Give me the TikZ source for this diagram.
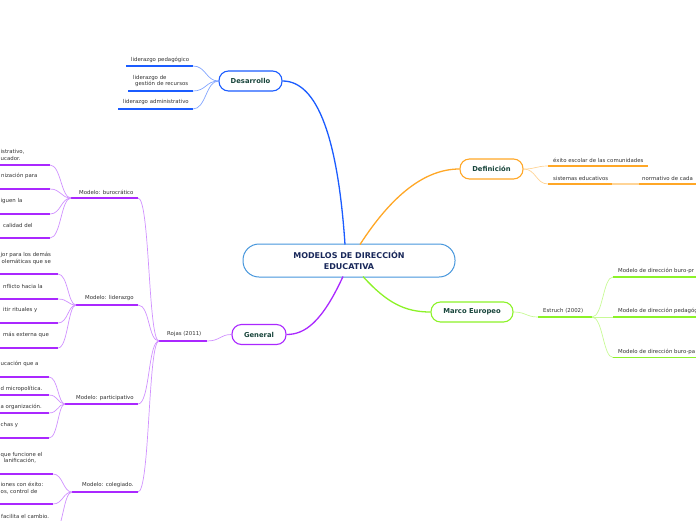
\documentclass[tikz,border=0pt]{standalone}
\usepackage{fontspec}
\setmainfont{DejaVu Sans}
\definecolor{cblue}{RGB}{27,92,255}
\definecolor{cbluel}{RGB}{130,165,255}
\definecolor{ccentral}{RGB}{70,150,220}
\definecolor{corange}{RGB}{255,167,38}
\definecolor{corangel}{RGB}{255,212,150}
\definecolor{cgreen}{RGB}{140,242,40}
\definecolor{cgreenl}{RGB}{200,250,150}
\definecolor{cpurple}{RGB}{170,40,255}
\definecolor{cpurplel}{RGB}{208,145,255}
\definecolor{nodetext}{RGB}{25,70,60}
\definecolor{titletext}{RGB}{25,40,90}
\definecolor{txtgray}{RGB}{50,50,50}
\tikzset{
  txt/.style={font=\fontsize{5.4}{6.3}\selectfont, text=txtgray, inner sep=0pt, anchor=west, align=left},
  topic/.style={draw, line width=1.1pt, fill=white, rounded corners=9.5pt, minimum height=20pt, inner sep=0pt, font=\fontsize{6.8}{8}\selectfont\bfseries, text=nodetext},
  mainlink/.style={line width=1.3pt},
  leafline/.style={line width=1.8pt},
  leaflink/.style={line width=0.7pt},
}
\begin{document}
\begin{tikzpicture}[x=1pt,y=-1pt]
\useasboundingbox (0,0) rectangle (696,520);
\clip (0,0) rectangle (696,520);

% ---------- main nodes ----------
\node[draw=ccentral, line width=1pt, fill=white, rounded corners=16pt, minimum width=212pt, minimum height=33pt, inner sep=0pt, align=center, font=\fontsize{8}{10.5}\selectfont\bfseries, text=titletext] (central) at (349,260.5) {MODELOS DE DIRECCIÓN\\EDUCATIVA};
\node[topic, draw=cblue, minimum width=63pt] (desa) at (250.5,81) {Desarrollo};
\node[topic, draw=corange, minimum width=63pt] (defi) at (491.5,169) {Definición};
\node[topic, draw=cgreen, minimum width=82pt] (marco) at (472,312) {Marco Europeo};
\node[topic, draw=cpurple, minimum width=54pt] (gene) at (259,334.5) {General};

\coordinate (cDesa) at (345,244.5);
\coordinate (cDefi) at (360,244.5);
\coordinate (cMarco) at (363,276.5);
\coordinate (cGene) at (343,276.5);

\draw[mainlink, cblue] (cDesa) .. controls (338,140) and (318,81) .. (desa.east);
\draw[mainlink, corange] (cDefi) .. controls (392,195) and (425,169) .. (defi.west);
\draw[mainlink, cgreen] (cMarco) .. controls (387,303) and (405,312) .. (marco.west);
\draw[mainlink, cpurple] (cGene) .. controls (322,322) and (305,334.5) .. (gene.east);

% ---------- Desarrollo ----------
\coordinate (d1a) at (126,66);  \coordinate (d1b) at (193,66);
\coordinate (d2a) at (128,91);  \coordinate (d2b) at (193,91);
\coordinate (d3a) at (118,109); \coordinate (d3b) at (193,109);
\foreach \i in {1,2,3}{
  \draw[leafline, cblue] (d\i a) -- (d\i b);
  \draw[leaflink, cbluel] (d\i b) .. controls (206,0|-d\i b) and (206,81) .. (desa.west);
}
\node[txt] (d1t) at (131,60) {liderazgo pedagógico};
\node[txt] (d2t) at (133,81) {liderazgo de\\\hspace*{2pt}gestión de recursos};
\node[txt] (d3t) at (123,102) {liderazgo administrativo};

% ---------- Definición ----------
\coordinate (f1a) at (548,166); \coordinate (f1b) at (648,166);
\coordinate (f2a) at (548,184); \coordinate (f2b) at (612,184);
\coordinate (f3a) at (639,184); \coordinate (f3b) at (697,184);
\draw[leafline, corange] (f1a) -- (f1b);
\draw[leafline, corange] (f2a) -- (f2b);
\draw[leafline, corange] (f3a) -- (f3b);
\draw[line width=1.5pt, corangel] (f2b) -- (f3a);
\draw[leaflink, corangel] (defi.east) .. controls (536,169) and (536,166) .. (f1a);
\draw[leaflink, corangel] (defi.east) .. controls (536,169) and (536,184) .. (f2a);
\node[txt] (f1t) at (553,160) {éxito escolar de las comunidades};
\node[txt] (f2t) at (553,178) {sistemas educativos};
\node[txt] (f3t) at (642,178) {normativo de cada};

% ---------- Marco Europeo ----------
\coordinate (ea) at (538,317); \coordinate (eb) at (592,317);
\draw[leafline, cgreen] (ea) -- (eb);
\draw[leaflink, cgreenl] (marco.east) .. controls (526,312) and (526,317) .. (ea);
\node[txt] (et) at (543,311) {Estruch (2002)};
\coordinate (m1a) at (613,277); \coordinate (m1b) at (697,277);
\coordinate (m2a) at (613,317); \coordinate (m2b) at (697,317);
\coordinate (m3a) at (613,357.5); \coordinate (m3b) at (697,357.5);
\foreach \i in {1,2,3}{
  \draw[leafline, cgreen] (m\i a) -- (m\i b);
  \draw[leaflink, cgreenl] (eb) .. controls (603,317) and (603,0|-m\i a) .. (m\i a);
}
\node[txt] (m1t) at (618,271) {Modelo de dirección buro-pr};
\node[txt] (m2t) at (618,311) {Modelo de dirección pedagóg};
\node[txt] (m3t) at (618,351.5) {Modelo de dirección buro-pa};

% ---------- General ----------
\coordinate (ra) at (159,341); \coordinate (rb) at (207,341);
\draw[leafline, cpurple] (ra) -- (rb);
\draw[leaflink, cpurplel] (rb) .. controls (220,341) and (220,334.5) .. (gene.west);
\node[txt] (rt) at (167,334) {Rojas (2011)};

% Rojas children
\coordinate (b1a) at (71,198);  \coordinate (b1b) at (138,198);
\coordinate (b2a) at (76,305);  \coordinate (b2b) at (138,305);
\coordinate (b3a) at (65,404);  \coordinate (b3b) at (138,404);
\coordinate (b4a) at (72,492);  \coordinate (b4b) at (138,492);
\foreach \i in {1,2,3,4}{
  \draw[leafline, cpurple] (b\i a) -- (b\i b);
  \draw[leaflink, cpurplel] (b\i b) .. controls (150,0|-b\i b) and (148,341) .. (ra);
}
\node[txt] (b1t) at (79,192) {Modelo: burocrático};
\node[txt] (b2t) at (85,298.5) {Modelo: liderazgo};
\node[txt] (b3t) at (76,398) {Modelo: participativo};
\node[txt] (b4t) at (82,485.5) {Modelo: colegiado.};

% leaves of burocrático
\foreach \y [count=\i] in {165,189,214,238}{
  \coordinate (l1\i a) at (-2,\y); \coordinate (l1\i b) at (50,\y);
  \draw[leafline, cpurple] (l1\i a) -- (l1\i b);
  \draw[leaflink, cpurplel] (l1\i b) .. controls (61,\y) and (61,198) .. (b1a);
}
\node[txt] (t11) at (0.5,155) {istrativo,\\ucador.};
\node[txt] (t12) at (1,176) {nización para};
\node[txt] (t13) at (0.5,201) {iguen la};
\node[txt] (t14) at (3,225) {calidad del};

% leaves of liderazgo
\foreach \y [count=\i] in {274,299,323,348}{
  \coordinate (l2\i a) at (-2,\y); \coordinate (l2\i b) at (58,\y);
  \draw[leafline, cpurple] (l2\i a) -- (l2\i b);
  \draw[leaflink, cpurplel] (l2\i b) .. controls (68,\y) and (68,305) .. (b2a);
}
\node[txt] (t21) at (0.5,258.5) {jor para los demás\\\hspace*{1pt}olemáticas que se};
\node[txt] (t22) at (3,286) {nflicto hacia la};
\node[txt] (t23) at (3,310.5) {itir rituales y};
\node[txt] (t24) at (3,335) {más externa que};

% leaves of participativo
\foreach \y [count=\i] in {377,395,413,438}{
  \coordinate (l3\i a) at (-2,\y); \coordinate (l3\i b) at (49,\y);
  \draw[leafline, cpurple] (l3\i a) -- (l3\i b);
  \draw[leaflink, cpurplel] (l3\i b) .. controls (58,\y) and (58,404) .. (b3a);
}
\node[txt] (t31) at (0.5,364) {ucación que a};
\node[txt] (t32) at (0.5,389) {d micropolítica.};
\node[txt] (t33) at (0.5,407) {a organización.};
\node[txt] (t34) at (0.5,425) {chas y};

% leaves of colegiado
\foreach \y [count=\i] in {474,504,534}{
  \coordinate (l4\i a) at (-2,\y); \coordinate (l4\i b) at (53,\y);
  \draw[leafline, cpurple] (l4\i a) -- (l4\i b);
  \draw[leaflink, cpurplel] (l4\i b) .. controls (63,\y) and (63,492) .. (b4a);
}
\node[txt] (t41) at (0.5,457.5) {que funcione el\\\hspace*{3pt}lanificación,};
\node[txt] (t42) at (0.5,488) {iones con éxito:\\os, control de};
\node[txt] (t43) at (1,516) {facilita el cambio.};
\end{tikzpicture}
\end{document}
